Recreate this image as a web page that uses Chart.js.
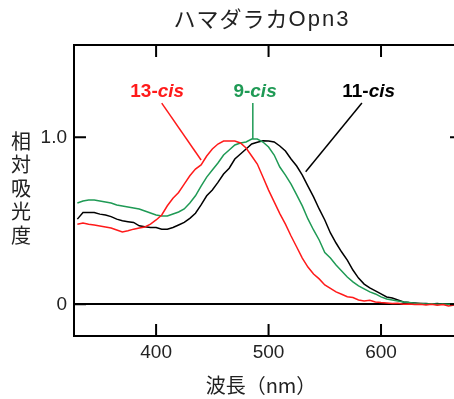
<!DOCTYPE html>
<html>
<head>
<meta charset="utf-8">
<script src="https://cdn.jsdelivr.net/npm/chart.js@4.4.0/dist/chart.umd.min.js"></script>
<style>
html, body { margin: 0; padding: 0; overflow: hidden; background: #fff; }
#wrap { width: 470px; height: 399px; }
</style>
</head>
<body>
<div id="wrap"><canvas id="myChart"></canvas></div>
<script>
// wavelength (nm)
const wavelength = [330, 335, 340, 345, 350, 355, 360, 365, 370, 375, 380, 385, 390, 395,
  400, 405, 410, 415, 420, 425, 430, 435, 440, 445, 450, 455, 460, 465, 470, 475,
  480, 485, 490, 495, 500, 505, 510, 515, 520, 525, 530, 535, 540, 545, 550, 555,
  560, 565, 570, 575, 580, 585, 590, 595, 600, 605, 610, 615, 620, 625, 630, 635,
  640, 645, 650, 655, 660, 665, 670];

// relative absorbance
const abs11cis = [0.51, 0.55, 0.55, 0.55, 0.54, 0.535, 0.525, 0.51, 0.50, 0.495, 0.49, 0.47, 0.465, 0.46,
  0.46, 0.45, 0.45, 0.46, 0.475, 0.49, 0.515, 0.545, 0.595, 0.65, 0.685, 0.73, 0.78, 0.815, 0.87, 0.90,
  0.93, 0.96, 0.97, 0.98, 0.978, 0.972, 0.948, 0.918, 0.87, 0.828, 0.774, 0.708, 0.643, 0.571, 0.505, 0.427,
  0.367, 0.313, 0.265, 0.205, 0.157, 0.121, 0.098, 0.08, 0.062, 0.044, 0.038, 0.026, 0.014, 0.01, 0.008, 0.005,
  0.004, 0.002, 0.004, 0.0, 0.002, 0.0, 0.0];

const abs9cis = [0.607, 0.619, 0.625, 0.625, 0.619, 0.613, 0.607, 0.595, 0.589, 0.583, 0.577, 0.571, 0.559, 0.547,
  0.535, 0.529, 0.529, 0.541, 0.553, 0.571, 0.607, 0.65, 0.708, 0.762, 0.804, 0.846, 0.894, 0.924, 0.954, 0.966,
  0.972, 0.99, 0.99, 0.972, 0.942, 0.894, 0.822, 0.774, 0.72, 0.655, 0.589, 0.511, 0.445, 0.385, 0.31, 0.277,
  0.235, 0.20, 0.163, 0.134, 0.11, 0.092, 0.074, 0.062, 0.044, 0.032, 0.026, 0.02, 0.014, 0.01, 0.006, 0.004,
  0.002, 0.003, 0.0, 0.002, 0.0, 0.0, 0.0];

const abs13cis = [0.48, 0.487, 0.48, 0.475, 0.469, 0.463, 0.457, 0.445, 0.433, 0.44, 0.45, 0.457, 0.463, 0.48,
  0.505, 0.535, 0.59, 0.635, 0.67, 0.72, 0.77, 0.81, 0.835, 0.888, 0.93, 0.96, 0.978, 0.978, 0.978, 0.966,
  0.936, 0.888, 0.84, 0.762, 0.684, 0.613, 0.543, 0.48, 0.409, 0.343, 0.277, 0.223, 0.181, 0.152, 0.116, 0.095,
  0.074, 0.06, 0.045, 0.04, 0.026, 0.02, 0.024, 0.014, 0.01, 0.008, 0.004, 0.006, 0.0, 0.002, -0.002, 0.0,
  -0.004, 0.0, -0.006, -0.002, -0.01, -0.004, 0.0];

const xTickValues = [400, 500, 600];
const yTickValues = [0, 1];
const yTickLabels = ['0', '1.0'];

// isomer labels and leader lines
const isoNames = ['13-', '9-', '11-'];
const isoColors = ['#ff1a1a', '#1f9a55', '#000000'];
const isoLabelX = [401, 488, 589];
const isoLabelY = 1.27;
const leaderX = [[405, 440], [486, 486], [583, 533]];
const leaderY = [[1.205, 0.864], [1.205, 0.99], [1.205, 0.794]];

const LATIN = '"Liberation Sans", Arial, sans-serif';
const CJK = '"Noto Sans CJK JP", sans-serif';

const toPoints = (xs, ys) => xs.map((v, i) => ({x: v, y: ys[i]}));

const curve = (label, values, color) => ({
    label: label,
    data: toPoints(wavelength, values),
    borderColor: color,
    borderWidth: 1.5,
    pointRadius: 0,
    tension: 0,
    fill: false,
});

let datasets = [
    curve('13-cis', abs13cis, isoColors[0]),
    curve('9-cis', abs9cis, isoColors[1]),
    curve('11-cis', abs11cis, isoColors[2]),
];
leaderX.forEach((xs, i) => {
    datasets.push({
        label: 'leader' + i,
        data: toPoints(xs, leaderY[i]),
        borderColor: isoColors[i],
        borderWidth: 1.5,
        pointRadius: 0,
    });
});

const decor = {
    id: 'decor',
    afterDatasetsDraw(chart) {
        const {ctx, chartArea: a, scales: {x, y}} = chart;
        ctx.save();
        ctx.strokeStyle = '#000';
        ctx.lineWidth = 2;
        ctx.strokeRect(a.left, a.top, a.right - a.left, a.bottom - a.top);
        ctx.beginPath();
        xTickValues.forEach(v => {
            const p = x.getPixelForValue(v);
            ctx.moveTo(p, a.top); ctx.lineTo(p, a.top + 12);
            ctx.moveTo(p, a.bottom); ctx.lineTo(p, a.bottom - 12);
        });
        yTickValues.forEach(v => {
            const p = y.getPixelForValue(v);
            ctx.moveTo(a.left, p); ctx.lineTo(a.left + 12, p);
            ctx.moveTo(a.right, p); ctx.lineTo(a.right - 12, p);
        });
        ctx.stroke();

        // isomer labels
        ctx.textBaseline = 'middle';
        ctx.textAlign = 'left';
        isoNames.forEach((name, i) => {
            const cx = x.getPixelForValue(isoLabelX[i]);
            const cy = y.getPixelForValue(isoLabelY);
            ctx.font = 'bold 19px ' + LATIN;
            const w1 = ctx.measureText(name).width;
            ctx.font = 'italic bold 19px ' + LATIN;
            const w2 = ctx.measureText('cis').width;
            const x0 = cx - (w1 + w2) / 2;
            ctx.fillStyle = isoColors[i];
            ctx.font = 'bold 19px ' + LATIN;
            ctx.fillText(name, x0, cy);
            ctx.font = 'italic bold 19px ' + LATIN;
            ctx.fillText('cis', x0 + w1, cy);
        });

        // chart title: katakana part + latin part
        ctx.fillStyle = '#222';
        ctx.font = '22px ' + CJK;
        ctx.letterSpacing = '1px';
        const t1 = 'ハマダラカ';
        const tw1 = ctx.measureText(t1).width;
        ctx.font = '22px ' + LATIN;
        ctx.letterSpacing = '2px';
        const t2 = 'Opn3';
        const tw2 = ctx.measureText(t2).width;
        const tx = 262 - (tw1 + tw2) / 2;
        ctx.font = '22px ' + CJK;
        ctx.letterSpacing = '1px';
        ctx.fillText(t1, tx, 19);
        ctx.font = '22px ' + LATIN;
        ctx.letterSpacing = '2px';
        ctx.fillText(t2, tx + tw1, 20);

        // axis titles
        ctx.letterSpacing = '0px';
        ctx.textAlign = 'center';
        ctx.font = '20px ' + CJK;
        ctx.fillText('波長（nm）', 261, 385);
        const yTitle = '相対吸光度';
        for (let i = 0; i < yTitle.length; i++) {
            ctx.fillText(yTitle[i], 21, 141 + i * 23.5);
        }
        ctx.restore();
    }
};

let chart = new Chart(document.getElementById('myChart'), {
    type: 'line',
    data: {datasets: datasets},
    plugins: [decor],
    options: {
        responsive: true,
        maintainAspectRatio: false,
        animation: false,
        layout: {padding: {top: 45, right: 8, left: 0, bottom: 0}},
        plugins: {legend: {display: false}, tooltip: {enabled: false}},
        scales: {
            x: {
                type: 'linear',
                min: 327,
                max: 672,
                afterFit: s => { s.height = 63; },
                afterBuildTicks: s => { s.ticks = xTickValues.map(v => ({value: v})); },
                grid: {display: false, drawTicks: false},
                border: {display: false},
                ticks: {
                    padding: 5,
                    color: '#222',
                    font: {family: LATIN, size: 19},
                    callback: v => String(v),
                },
            },
            y: {
                type: 'linear',
                min: -0.19,
                max: 1.553,
                afterFit: s => { s.width = 74; },
                afterBuildTicks: s => { s.ticks = yTickValues.map(v => ({value: v})); },
                grid: {
                    drawTicks: false,
                    lineWidth: 2,
                    color: c => c.tick && c.tick.value === 0 ? '#000' : 'rgba(0,0,0,0)',
                },
                border: {display: false},
                ticks: {
                    padding: 7,
                    color: '#222',
                    font: {family: LATIN, size: 19},
                    callback: v => yTickLabels[yTickValues.indexOf(v)],
                },
            },
        },
    },
});
</script>
</body>
</html>
